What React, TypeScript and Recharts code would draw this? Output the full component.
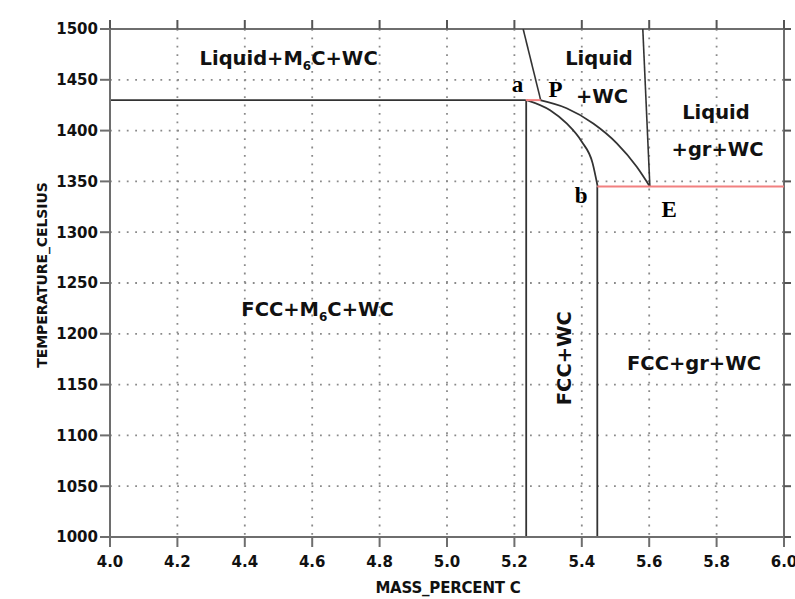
import React from "react";
import {
  LineChart,
  Line,
  XAxis,
  YAxis,
  CartesianGrid,
  ReferenceDot,
  ReferenceLine,
  Label,
} from "recharts";

const xTicks = [4.0, 4.2, 4.4, 4.6, 4.8, 5.0, 5.2, 5.4, 5.6, 5.8, 6.0];
const yTicks = [1000, 1050, 1100, 1150, 1200, 1250, 1300, 1350, 1400, 1450, 1500];

// phase boundaries (mass % C, temperature C)
const isotherm1430 = [
  { x: 4.0, y: 1430 },
  { x: 5.234, y: 1430 },
];
const peritecticSegment = [
  { x: 5.234, y: 1430 },
  { x: 5.278, y: 1430 },
];
const liquidusLeft = [
  { x: 5.226, y: 1500 },
  { x: 5.278, y: 1430 },
];
const solvusLeft = [
  { x: 5.235, y: 1430 },
  { x: 5.235, y: 1000 },
];
const curveAB = [
  { x: 5.236, y: 1430 },
  { x: 5.306, y: 1420 },
  { x: 5.355, y: 1407 },
  { x: 5.4, y: 1389 },
  { x: 5.432, y: 1368 },
  { x: 5.447, y: 1345 },
];
const solvusRight = [
  { x: 5.446, y: 1345 },
  { x: 5.446, y: 1000 },
];
const curvePE = [
  { x: 5.276, y: 1430 },
  { x: 5.355, y: 1422 },
  { x: 5.434, y: 1407 },
  { x: 5.504, y: 1387.5 },
  { x: 5.563, y: 1364.5 },
  { x: 5.602, y: 1345 },
];
const liquidusRight = [
  { x: 5.581, y: 1500 },
  { x: 5.602, y: 1345 },
];
const eutecticIsotherm = [
  { x: 5.446, y: 1345 },
  { x: 6.0, y: 1345 },
];

const phaseLabels = [
  { x: 4.53, y: 1464.6, pre: "Liquid+M", sub: "6", post: "C+WC", rotate: false },
  { x: 5.451, y: 1464.6, pre: "Liquid", sub: "", post: "", rotate: false },
  { x: 5.46, y: 1427, pre: "+WC", sub: "", post: "", rotate: false },
  { x: 5.798, y: 1411, pre: "Liquid", sub: "", post: "", rotate: false },
  { x: 5.803, y: 1375, pre: "+gr+WC", sub: "", post: "", rotate: false },
  { x: 4.616, y: 1217.5, pre: "FCC+M", sub: "6", post: "C+WC", rotate: false },
  { x: 5.35, y: 1176, pre: "FCC+WC", sub: "", post: "", rotate: true },
  { x: 5.733, y: 1164, pre: "FCC+gr+WC", sub: "", post: "", rotate: false },
];

const pointLabels = [
  { x: 5.209, y: 1438, text: "a" },
  { x: 5.322, y: 1433.4, text: "P" },
  { x: 5.398, y: 1328.7, text: "b" },
  { x: 5.659, y: 1315, text: "E" },
];

const sans = "'DejaVu Sans', Verdana, sans-serif";
const serif = "'Liberation Serif', 'Times New Roman', serif";
const lineColor = "#333";
const redColor = "#f28080";
const axisColor = "#6e6e6e";

// plot frame in pixels (follows from the chart size and margins below)
const plot = { left: 110, right: 784, top: 29, bottom: 537 };

function PhaseText({ cx, cy, l }: any) {
  if (l.rotate) {
    return (
      <text
        x={cx}
        y={cy}
        transform={`rotate(-90 ${cx} ${cy})`}
        textAnchor="middle"
        dominantBaseline="central"
        fontFamily={sans}
        fontWeight="bold"
        fontSize={19.5}
        fill="#111"
      >
        {l.pre}
      </text>
    );
  }
  return (
    <text
      x={cx}
      y={cy}
      textAnchor="middle"
      fontFamily={sans}
      fontWeight="bold"
      fontSize={19.5}
      fill="#111"
    >
      {l.pre}
      {l.sub ? (
        <tspan fontSize={12} dy={5}>
          {l.sub}
        </tspan>
      ) : null}
      {l.sub ? <tspan dy={-5}>{l.post}</tspan> : null}
    </text>
  );
}

function PointText({ cx, cy, text }: any) {
  return (
    <text
      x={cx}
      y={cy}
      textAnchor="middle"
      fontFamily={serif}
      fontWeight="bold"
      fontSize={23}
      fill="#000"
    >
      {text}
    </text>
  );
}

// outward tick marks on the top and right sides of the frame
function FrameTicks() {
  const w = plot.right - plot.left;
  const h = plot.bottom - plot.top;
  return (
    <g>
      {xTicks.map((t) => {
        const px = plot.left + ((t - 4) / 2) * w;
        return (
          <line
            key={`t${t}`}
            x1={px}
            x2={px}
            y1={plot.top}
            y2={plot.top - 9}
            stroke="#555"
            strokeWidth={2}
          />
        );
      })}
      {yTicks.map((t) => {
        const py = plot.top + ((1500 - t) / 500) * h;
        return (
          <line
            key={`r${t}`}
            x1={plot.right}
            x2={plot.right + 7}
            y1={py}
            y2={py}
            stroke="#555"
            strokeWidth={2}
          />
        );
      })}
    </g>
  );
}

const boundary = (data: any[], key: string, color = lineColor, width = 1.6, type: any = "linear") => (
  <Line
    key={key}
    data={data}
    dataKey="y"
    type={type}
    stroke={color}
    strokeWidth={width}
    dot={false}
    activeDot={false}
    isAnimationActive={false}
  />
);

export default function App() {
  return (
    <div style={{ position: "absolute", left: 0, top: 0, background: "#fff" }}>
      <LineChart
        width={795}
        height={599}
        margin={{ top: 29, right: 11, bottom: 0, left: 0 }}
      >
        <CartesianGrid stroke="#8a8a8a" strokeWidth={1.8} strokeDasharray="1.8 6.6" />
        <XAxis
          dataKey="x"
          type="number"
          domain={[4, 6]}
          ticks={xTicks}
          allowDataOverflow
          height={62}
          tickSize={10}
          tickMargin={9}
          tickFormatter={(v: number) => v.toFixed(1)}
          tick={{ fontFamily: sans, fontWeight: "bold", fontSize: 15, fill: "#111" }}
          stroke={axisColor}
          strokeWidth={2}
        >
          <Label
            content={() => (
              <g>
                <text
                  x={448}
                  y={588}
                  textAnchor="middle"
                  dominantBaseline="central"
                  fontFamily={sans}
                  fontWeight="bold"
                  fontSize={15}
                  letterSpacing={-0.2}
                  fill="#111"
                >
                  MASS_PERCENT C
                </text>
                <FrameTicks />
              </g>
            )}
          />
        </XAxis>
        <YAxis
          type="number"
          domain={[1000, 1500]}
          ticks={yTicks}
          allowDataOverflow
          width={110}
          tickSize={10}
          tickMargin={2}
          tick={{ fontFamily: sans, fontWeight: "bold", fontSize: 15, fill: "#111" }}
          stroke={axisColor}
          strokeWidth={2}
        >
          <Label
            content={() => (
              <text
                x={42}
                y={275}
                transform="rotate(-90 42 275)"
                textAnchor="middle"
                dominantBaseline="central"
                fontFamily={sans}
                fontWeight="bold"
                fontSize={14}
                letterSpacing={-0.1}
                fill="#111"
              >
                TEMPERATURE_CELSIUS
              </text>
            )}
          />
        </YAxis>
        <ReferenceLine y={1500} stroke={axisColor} strokeWidth={2} ifOverflow="visible" />
        <ReferenceLine x={6} stroke={axisColor} strokeWidth={2} ifOverflow="visible" />
        {boundary(isotherm1430, "iso1430", lineColor, 1.8)}
        {boundary(liquidusLeft, "liqL")}
        {boundary(solvusLeft, "solL", lineColor, 1.8)}
        {boundary(curveAB, "ab", lineColor, 1.8, "monotone")}
        {boundary(solvusRight, "solR", lineColor, 1.8)}
        {boundary(curvePE, "pe", lineColor, 1.8, "monotone")}
        {boundary(liquidusRight, "liqR")}
        {boundary(peritecticSegment, "peri", redColor, 2)}
        {boundary(eutecticIsotherm, "eut", redColor, 2)}
        {phaseLabels.map((l, i) => (
          <ReferenceDot
            key={`ph${i}`}
            x={l.x}
            y={l.y}
            r={1}
            ifOverflow="visible"
            shape={(p: any) => <PhaseText cx={p.cx} cy={p.cy} l={l} />}
          />
        ))}
        {pointLabels.map((l, i) => (
          <ReferenceDot
            key={`pt${i}`}
            x={l.x}
            y={l.y}
            r={1}
            ifOverflow="visible"
            shape={(p: any) => <PointText cx={p.cx} cy={p.cy} text={l.text} />}
          />
        ))}
      </LineChart>
    </div>
  );
}
